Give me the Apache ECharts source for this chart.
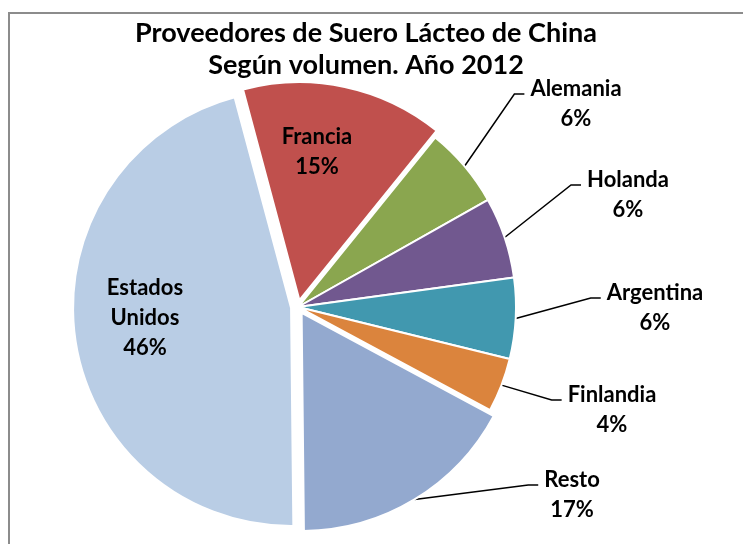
<!DOCTYPE html>
<html>
<head>
<meta charset="utf-8">
<script src="https://cdn.jsdelivr.net/npm/echarts@6/dist/echarts.min.js"></script>
<style>
  html, body { margin: 0; padding: 0; background: #fff; }
  #pie-chart { width: 743px; height: 544px; }
</style>
</head>
<body>
<div id="pie-chart"></div>
<script>
// datos
var paises = ['Francia', 'Alemania', 'Holanda', 'Argentina', 'Finlandia', 'Resto', 'Estados Unidos'];
var etiquetas = ['Francia', 'Alemania', 'Holanda', 'Argentina', 'Finlandia', 'Resto', 'Estados\nUnidos'];
var volumen = [15, 6, 6, 6, 4, 17, 46];
var colores = ['#C0504D', '#8AA64F', '#71588F', '#4198AF', '#DB843D', '#93A9CF', '#B9CDE5'];
var destacados = ['Francia', 'Resto', 'Estados Unidos'];
var internos = ['Francia', 'Estados Unidos'];

// layout
var centro = [298, 307];
var radio = 218;
var inicio = 105;      // startAngle
var separacion = 7;    // exploded slices
// where the labels sit (px): text centre x, leader line y (or centre for inside labels)
var posEtiqueta = [[317, 152], [576, 96], [628, 187], [655, 300], [612, 402], [572, 487], [145, 318]];

var total = volumen.reduce(function (a, b) { return a + b; }, 0);

function centroDe(i) {
  var antes = 0;
  for (var k = 0; k < i; k++) antes += volumen[k];
  var medio = (antes + volumen[i] / 2) / total * 360;
  var ang = (inicio - medio) * Math.PI / 180;
  return [centro[0] + separacion * Math.cos(ang), centro[1] - separacion * Math.sin(ang)];
}

function formato(p) {
  var pct = '{t|' + Math.round(p.percent) + '%}';
  if (internos.indexOf(p.name) >= 0) {
    return etiquetas[p.dataIndex].split('\n').map(function (s) { return '{t|' + s + '}'; }).join('\n') + '\n' + pct;
  }
  // spacer line on top so the leader line meets the name line, gaps left/right of the name
  return '{s|}\n{g|}{t|' + etiquetas[p.dataIndex] + '}{g|}\n' + pct;
}

function colocar(p) {
  var pos = posEtiqueta[p.dataIndex];
  return { x: pos[0], y: pos[1], align: 'center', verticalAlign: 'middle' };
}

// visible: which slices this series draws
function serie(visible, c) {
  return {
    type: 'pie',
    center: c,
    radius: radio,
    startAngle: inicio,
    clockwise: true,
    avoidLabelOverlap: false,
    silent: true,
    emphasis: { disabled: true },
    label: {
      color: '#000',
      fontFamily: 'Lato',
      fontWeight: 'bold',
      formatter: formato,
      rich: {
        s: { height: 16, lineHeight: 16, fontSize: 1 },
        g: { width: 6, height: 30, lineHeight: 30, fontSize: 1 },
        t: { fontFamily: 'Lato', fontWeight: 'bold', fontSize: 22, lineHeight: 30, color: '#000', align: 'center' }
      }
    },
    labelLine: {
      length: 20,
      length2: 10,
      lineStyle: { color: '#000', width: 1.5 }
    },
    labelLayout: colocar,
    data: paises.map(function (n, i) {
      var ver = visible(i);
      var dentro = internos.indexOf(n) >= 0;
      return {
        name: n,
        value: volumen[i],
        itemStyle: ver
          ? { color: colores[i], borderColor: '#fff', borderWidth: 2 }
          : { color: 'rgba(0,0,0,0)', borderWidth: 0 },
        label: { show: ver, position: dentro ? 'inside' : 'outside' },
        labelLine: { show: ver && !dentro }
      };
    })
  };
}

var series = [serie(function (i) { return destacados.indexOf(paises[i]) < 0; }, centro)];
paises.forEach(function (n, i) {
  if (destacados.indexOf(n) >= 0) {
    series.push(serie(function (j) { return j === i; }, centroDe(i)));
  }
});

var myChart = echarts.init(document.getElementById('pie-chart'));

var option = {
  animation: false,
  title: {
    text: 'Proveedores de Suero Lácteo de China\nSegún volumen. Año 2012',
    left: 361,
    top: 12,
    textAlign: 'center',
    textStyle: {
      fontFamily: 'Lato',
      fontWeight: 'bold',
      fontSize: 27,
      lineHeight: 32,
      color: '#000'
    }
  },
  graphic: [
    {
      type: 'rect',
      shape: { x: 9, y: 13, width: 760, height: 560 },
      style: { fill: 'none', stroke: '#8c8c8c', lineWidth: 2 }
    }
  ],
  series: series
};

myChart.setOption(option);
</script>
</body>
</html>
